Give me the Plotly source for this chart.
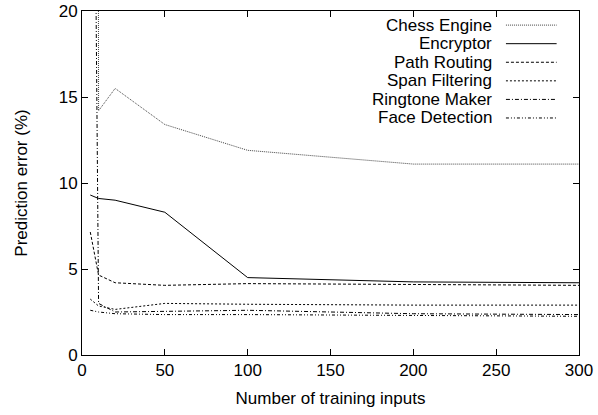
import plotly.graph_objects as go

x_inputs = [5, 10, 20, 50, 100, 200, 300]

chess_engine = [400.0, 14.2, 15.5, 13.4, 11.9, 11.1, 11.1]
encryptor = [9.3, 9.1, 9.0, 8.3, 4.5, 4.25, 4.2]
path_routing = [7.15, 4.65, 4.2, 4.05, 4.15, 4.1, 4.05]
span_filtering = [3.25, 2.85, 2.65, 3.0, 2.95, 2.9, 2.9]
ringtone_maker = [60.0, 3.0, 2.5, 2.55, 2.6, 2.4, 2.35]
face_detection = [2.6, 2.5, 2.4, 2.35, 2.35, 2.3, 2.25]

series_names = ["Chess Engine", "Encryptor", "Path Routing", "Span Filtering",
                "Ringtone Maker", "Face Detection"]
series_values = [chess_engine, encryptor, path_routing, span_filtering,
                 ringtone_maker, face_detection]
series_dash = ["1px,1px", "solid", "3px,2px", "2px,2px",
               "4px,2px,1px,2px", "3px,2px,1px,2px,1px,2px"]
series_color = ["#444444", "black", "black", "black", "black", "black"]

x_ticks = [0, 50, 100, 150, 200, 250, 300]
y_ticks = [0, 5, 10, 15, 20]

FONT = "Liberation Sans, Arial, Helvetica, sans-serif"
FS = 17

fig = go.Figure()
for name, vals, dash, col in zip(series_names, series_values, series_dash, series_color):
    fig.add_trace(go.Scatter(x=x_inputs, y=vals, mode="lines", name=name,
                             line=dict(color=col, width=1, dash=dash),
                             showlegend=False))

# manual gnuplot-style legend (text right-aligned, sample on the right)
row_y = [0.959, 0.905, 0.851, 0.797, 0.743, 0.689]
for name, dash, col, yy in zip(series_names, series_dash, series_color, row_y):
    fig.add_annotation(xref="paper", yref="paper", x=0.829, y=yy, text=name,
                       showarrow=False, xanchor="right", yanchor="middle",
                       font=dict(family=FONT, size=FS, color="black"))
    fig.add_shape(type="line", xref="paper", yref="paper", x0=0.853, x1=0.955,
                  y0=yy, y1=yy, line=dict(color=col, width=1, dash=dash))

axis_common = dict(showline=True, linecolor="black", linewidth=1, mirror="ticks",
                   ticks="inside", ticklen=6, tickcolor="black", tickwidth=1,
                   showgrid=False, zeroline=False, automargin=False,
                   ticklabeloverflow="allow",
                   tickfont=dict(family=FONT, size=FS, color="black"),
                   title_font=dict(family=FONT, size=FS, color="black"))

fig.update_xaxes(range=[0, 300], tickvals=x_ticks, ticktext=[str(v) for v in x_ticks],
                 title_text="Number of training inputs", title_standoff=12, **axis_common)
fig.update_yaxes(range=[0, 20], tickvals=y_ticks, ticktext=[str(v) for v in y_ticks],
                 title_text="Prediction error (%)", title_standoff=26, **axis_common)

fig.update_layout(width=598, height=415, plot_bgcolor="white", paper_bgcolor="white",
                  margin=dict(l=82, r=19, t=11, b=60), showlegend=False)

# remove the default 8px page margin so the figure fills the window exactly
fig.write_html("out.html", config={"displayModeBar": False},
               post_script="document.body.style.margin='0';document.body.style.overflow='hidden';")
